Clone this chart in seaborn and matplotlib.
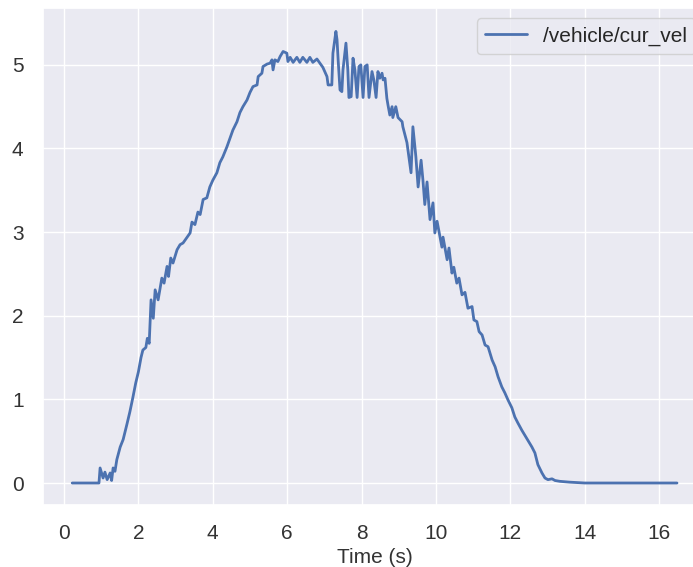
import matplotlib
matplotlib.use("Agg")
import matplotlib.pyplot as plt
import seaborn as sns
import pandas as pd

# Time (s) and velocity values
time_s = [0.22, 0.94, 0.97, 1.05, 1.10, 1.16, 1.24, 1.28, 1.32, 1.37,
          1.42, 1.51, 1.59, 1.69, 1.77, 1.85, 1.93, 2.00, 2.07, 2.12,
          2.20, 2.24, 2.29, 2.34, 2.40, 2.45, 2.53, 2.63, 2.69, 2.77,
          2.81, 2.87, 2.93, 3.04, 3.12, 3.20, 3.31, 3.39, 3.44, 3.52,
          3.60, 3.66, 3.74, 3.84, 3.92, 4.00, 4.11, 4.19, 4.27, 4.38,
          4.46, 4.54, 4.65, 4.73, 4.81, 4.92, 5.00, 5.08, 5.19, 5.22,
          5.32, 5.35, 5.46, 5.54, 5.59, 5.62, 5.67, 5.75, 5.81, 5.89,
          5.99, 6.02, 6.08, 6.16, 6.26, 6.34, 6.42, 6.53, 6.61, 6.69,
          6.80, 6.88, 6.96, 7.07, 7.10, 7.20, 7.23, 7.28, 7.31, 7.34,
          7.37, 7.42, 7.47, 7.50, 7.58, 7.63, 7.66, 7.72, 7.77, 7.82,
          7.88, 7.93, 7.98, 8.04, 8.09, 8.15, 8.20, 8.28, 8.33, 8.39,
          8.44, 8.49, 8.55, 8.58, 8.63, 8.68, 8.71, 8.76, 8.82, 8.84,
          8.92, 8.98, 9.09, 9.11, 9.22, 9.33, 9.38, 9.46, 9.52, 9.60,
          9.65, 9.70, 9.76, 9.84, 9.92, 9.97, 10.03, 10.11, 10.16, 10.19,
          10.30, 10.35, 10.43, 10.48, 10.56, 10.62, 10.70, 10.78, 10.86, 10.97,
          11.02, 11.10, 11.16, 11.24, 11.32, 11.40, 11.51, 11.59, 11.67, 11.77,
          11.85, 11.94, 12.04, 12.12, 12.20, 12.31, 12.39, 12.47, 12.58, 12.66,
          12.74, 12.85, 12.93, 13.01, 13.12, 13.20, 13.33, 13.60, 14.00, 16.48]

velocity = [0.00, 0.00, 0.18, 0.06, 0.13, 0.04, 0.12, 0.03, 0.18, 0.14,
            0.28, 0.43, 0.52, 0.70, 0.85, 1.02, 1.20, 1.33, 1.50, 1.59,
            1.62, 1.73, 1.67, 2.19, 1.97, 2.31, 2.19, 2.45, 2.39, 2.59,
            2.47, 2.69, 2.63, 2.79, 2.85, 2.87, 2.94, 2.99, 3.12, 3.09,
            3.24, 3.21, 3.39, 3.41, 3.54, 3.62, 3.71, 3.83, 3.90, 4.02,
            4.12, 4.22, 4.32, 4.43, 4.50, 4.58, 4.67, 4.74, 4.76, 4.86,
            4.90, 4.98, 5.01, 5.02, 5.06, 4.94, 5.06, 5.04, 5.10, 5.16,
            5.14, 5.04, 5.09, 5.03, 5.09, 5.03, 5.09, 5.03, 5.09, 5.03,
            5.07, 5.02, 4.97, 4.86, 4.76, 4.76, 5.14, 5.30, 5.40, 5.30,
            5.06, 4.70, 4.68, 4.94, 5.26, 4.94, 4.61, 4.62, 5.08, 4.94,
            4.61, 4.98, 5.00, 4.61, 4.98, 5.00, 4.61, 4.92, 4.82, 4.61,
            4.92, 4.84, 4.90, 4.82, 4.84, 4.60, 4.52, 4.40, 4.50, 4.37,
            4.50, 4.37, 4.32, 4.26, 4.07, 3.71, 4.26, 3.90, 3.54, 3.86,
            3.62, 3.33, 3.60, 3.15, 3.35, 2.99, 3.13, 2.94, 2.82, 2.94,
            2.67, 2.81, 2.51, 2.58, 2.39, 2.45, 2.25, 2.28, 2.09, 2.11,
            1.95, 1.93, 1.81, 1.77, 1.65, 1.63, 1.47, 1.39, 1.27, 1.15,
            1.08, 0.99, 0.90, 0.79, 0.72, 0.63, 0.57, 0.51, 0.43, 0.36,
            0.22, 0.12, 0.06, 0.04, 0.05, 0.03, 0.02, 0.01, 0.00, 0.00]

series_label = "/vehicle/cur_vel"
x_label = "Time (s)"

sns.set_theme(style="darkgrid")
plt.rcParams["font.family"] = ["Liberation Sans", "DejaVu Sans"]

df = pd.DataFrame({"t": time_s, "v": velocity})

fig = plt.figure(figsize=(6.93, 5.67), dpi=100)
ax = fig.add_axes([43 / 693, 62 / 567, 663 / 693, 497 / 567])
sns.lineplot(data=df, x="t", y="v", ax=ax, estimator=None, sort=False,
             color="#4c72b0", linewidth=2.0, label=series_label)

ax.set_xlim(-0.565, 17.26)
ax.set_ylim(-0.263, 5.68)
ax.set_xticks([0, 2, 4, 6, 8, 10, 12, 14, 16])
ax.set_yticks([0, 1, 2, 3, 4, 5])
ax.tick_params(axis="both", labelsize=15, colors="#333333", pad=8)
ax.set_xlabel(x_label, fontsize=15, color="#333333", labelpad=3)
ax.set_ylabel("")
ax.legend(loc="upper right", fontsize=15)

fig.savefig("out.png", dpi=100)
